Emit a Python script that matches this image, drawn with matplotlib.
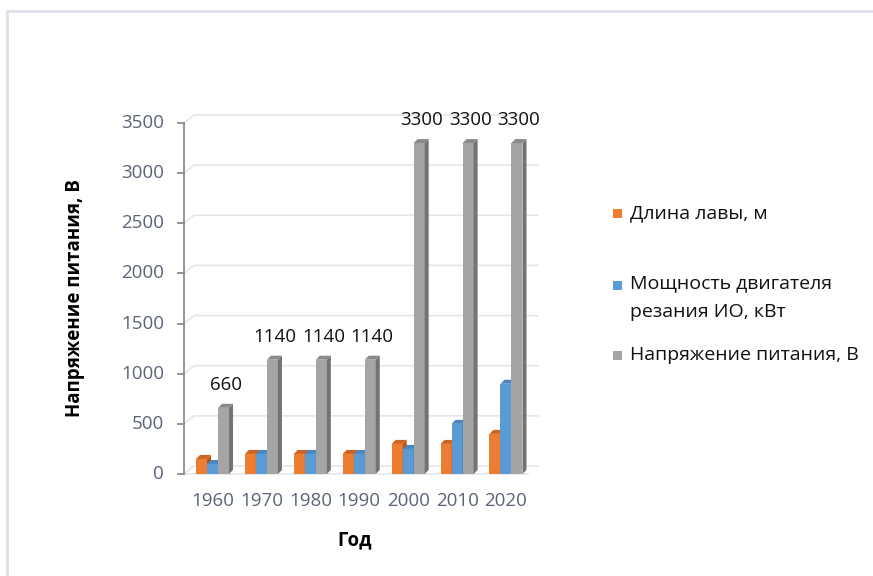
import numpy as np
import matplotlib
matplotlib.use("Agg")
import matplotlib.pyplot as plt
from matplotlib.patches import Polygon, Rectangle
from matplotlib.lines import Line2D

# data
years = ["1960", "1970", "1980", "1990", "2000", "2010", "2020"]
length_m = [150, 200, 200, 200, 300, 300, 400]
power_kw = [100, 200, 200, 200, 250, 500, 900]
voltage_v = [660, 1140, 1140, 1140, 3300, 3300, 3300]
series_names = ["Длина лавы, м", "Мощность двигателя\nрезания ИО, кВт", "Напряжение питания, В"]
yticks = [0, 500, 1000, 1500, 2000, 2500, 3000, 3500]

plt.rcParams['font.family'] = ['Open Sans', 'DejaVu Sans']

# front / side / top colours for the fake 3d columns
front = ['#ED7D31', '#5B9BD5', '#A5A5A5']
side = ['#B4561A', '#3A72A8', '#737373']
top = ['#CF6420', '#4A86C0', '#8A8A8A']
tick_col = '#5a6478'
fs = 13.5

fig = plt.figure(figsize=(8.73, 5.76), dpi=100)
W, H = 873, 576
ax = fig.add_axes([184 / W, (576 - 474) / H, (528 - 184) / W, (474 - 123) / H])
ax.set_xlim(-0.583, 6.45)
ax.set_ylim(0, 3500)
for s in ax.spines.values():
    s.set_visible(False)
ax.set_xticks([])
ax.set_yticks([])
fig.canvas.draw()

to_disp = ax.transData.transform
to_data = ax.transData.inverted().transform

# back wall gridlines (shifted back into depth)
dep_x, dep_y = 10, 8
x_right_px = 538
for v in yticks:
    x0, y0 = to_disp((-0.583, v))
    pts = to_data([(x0, y0), (x0 + dep_x, y0 + dep_y), (x_right_px, y0 + dep_y)])
    ax.plot(pts[:, 0], pts[:, 1], color='#e3e6ec', lw=1.2, clip_on=False, zorder=1)

# floor front edge
ax.plot([-0.583, 6.45], [0, 0], color='#e3e6ec', lw=1.2, clip_on=False, zorder=1)

# left axis with ticks
ax.plot([-0.583, -0.583], [0, 3500], color='#8c8c8c', lw=1.3, clip_on=False, zorder=2)
for v in yticks:
    x0, y0 = to_disp((-0.583, v))
    pts = to_data([(x0 - 6, y0), (x0, y0)])
    ax.plot(pts[:, 0], pts[:, 1], color='#8c8c8c', lw=1.3, clip_on=False, zorder=2)
    ax.text(x0 - 20, y0, str(v), transform=None, ha='right', va='center',
            fontsize=fs, color=tick_col)

# columns
bw = 0.225
bd_x, bd_y = 4, 4
series = [length_m, power_kw, voltage_v]
x = np.arange(len(years))
for i in range(len(years)):
    for k, vals in enumerate(series):
        xc = x[i] + (k - 1) * bw
        ax.bar(xc, vals[i], width=bw, color=front[k], zorder=3, linewidth=0)
        (xl, yb), (xr, yt) = to_disp([(xc - bw / 2, 0), (xc + bw / 2, vals[i])])
        sd = to_data([(xr, yb), (xr + bd_x, yb + bd_y), (xr + bd_x, yt + bd_y), (xr, yt)])
        ax.add_patch(Polygon(sd, closed=True, facecolor=side[k], edgecolor='none', zorder=3, clip_on=False))
        tp = to_data([(xl, yt), (xl + bd_x, yt + bd_y), (xr + bd_x, yt + bd_y), (xr, yt)])
        ax.add_patch(Polygon(tp, closed=True, facecolor=top[k], edgecolor='none', zorder=3, clip_on=False))
    # value labels for the voltage column
    ax.annotate(str(voltage_v[i]), (x[i] + bw, voltage_v[i]), xytext=(2, 23),
                textcoords='offset pixels', ha='center', va='center',
                fontsize=fs, color='#111111', zorder=5)
    ax.text(x[i], -265, years[i], ha='center', va='center', fontsize=fs, color=tick_col)

fig.text(355 / W, 1 - 540 / H, "Год", ha='center', va='center', fontsize=fs, fontweight='bold')
fig.text(75 / W, 1 - 298 / H, "Напряжение питания, В", ha='center', va='center',
         rotation=90, fontsize=fs, fontweight='bold')

# legend
lfs = 14
leg_y = [213, 285, 355]
for k in range(3):
    fig.patches.append(Rectangle((613 / W, 1 - (leg_y[k] + 4.5) / H), 9 / W, 9 / H,
                                 transform=fig.transFigure, facecolor=front[k], edgecolor='none'))
fig.text(630 / W, 1 - 213 / H, series_names[0], ha='left', va='center', fontsize=lfs, color='#111111')
fig.text(630 / W, 1 - 298 / H, series_names[1], ha='left', va='center', fontsize=lfs, color='#111111',
         linespacing=1.75)
fig.text(630 / W, 1 - 355 / H, series_names[2], ha='left', va='center', fontsize=lfs, color='#111111')

# chart area border (top and left visible)
fig.add_artist(Line2D([7 / W, 7 / W], [0, 1 - 11 / H], transform=fig.transFigure, color='#dde1e8', lw=2))
fig.add_artist(Line2D([7 / W, 1], [1 - 11 / H, 1 - 11 / H], transform=fig.transFigure, color='#dde1e8', lw=2))

fig.savefig("out.png", dpi=100)
